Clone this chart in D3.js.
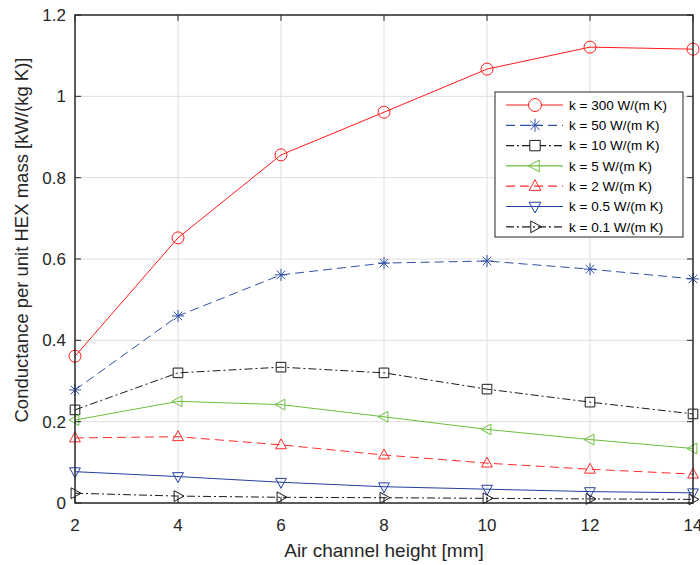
<!DOCTYPE html>
<html>
<head>
<meta charset="utf-8">
<script src="https://cdn.jsdelivr.net/npm/d3@7"></script>
<style>
  body { margin: 0; background: #fff; }
  text { font-family: "Liberation Sans", Arial, sans-serif; }
</style>
</head>
<body>
<svg id="chart" width="700" height="565"></svg>
<script>
// channel heights [mm]
const heights = [2, 4, 6, 8, 10, 12, 14];
const xTicks = [2, 4, 6, 8, 10, 12, 14];
const yTicks = [0, 0.2, 0.4, 0.6, 0.8, 1, 1.2];

// conductance per unit HEX mass, one list per wall conductivity
const k300 = [0.361, 0.652, 0.856, 0.961, 1.067, 1.121, 1.116];
const k50 = [0.278, 0.460, 0.561, 0.590, 0.595, 0.575, 0.551];
const k10 = [0.229, 0.320, 0.334, 0.320, 0.280, 0.248, 0.219];
const k5 = [0.204, 0.250, 0.242, 0.212, 0.181, 0.156, 0.134];
const k2 = [0.160, 0.163, 0.143, 0.118, 0.098, 0.083, 0.071];
const k05 = [0.077, 0.065, 0.051, 0.040, 0.034, 0.028, 0.025];
const k01 = [0.024, 0.017, 0.014, 0.013, 0.0115, 0.010, 0.009];

const series = [
  { label: "k = 300 W/(m K)", values: k300, color: "#ff1a1a", dash: null, marker: "circle" },
  { label: "k = 50 W/(m K)", values: k50, color: "#2f4fa6", dash: "9,5", marker: "star" },
  { label: "k = 10 W/(m K)", values: k10, color: "#1a1a1a", dash: "8,3,2,3", marker: "square" },
  { label: "k = 5 W/(m K)", values: k5, color: "#6cbf3c", dash: null, marker: "left" },
  { label: "k = 2 W/(m K)", values: k2, color: "#ff2a2a", dash: "9,5", marker: "up" },
  { label: "k = 0.5 W/(m K)", values: k05, color: "#22409e", dash: null, marker: "down" },
  { label: "k = 0.1 W/(m K)", values: k01, color: "#1a1a1a", dash: "8,3,2,3", marker: "right" }
];

const margin = { left: 75, right: 7, top: 15, bottom: 62 };
const svg = d3.select("#chart"),
    W = +svg.attr("width"), H = +svg.attr("height"),
    iw = W - margin.left - margin.right,
    ih = H - margin.top - margin.bottom;

const x = d3.scaleLinear().domain([2, 14]).range([0, iw]);
const y = d3.scaleLinear().domain([0, 1.2]).range([ih, 0]);

const g = svg.append("g").attr("transform", "translate(" + margin.left + "," + margin.top + ")");

// grid
g.append("g").selectAll("line").data(xTicks.slice(1, -1)).join("line")
    .attr("x1", d => x(d)).attr("x2", d => x(d)).attr("y1", 0).attr("y2", ih)
    .attr("stroke", "#dedede").attr("stroke-width", 1);
g.append("g").selectAll("line").data(yTicks.slice(1, -1)).join("line")
    .attr("y1", d => y(d)).attr("y2", d => y(d)).attr("x1", 0).attr("x2", iw)
    .attr("stroke", "#dedede").attr("stroke-width", 1);

// marker paths
function markerPath(type, s) {
  switch (type) {
    case "circle": return d3.symbol(d3.symbolCircle, Math.PI * s * s)();
    case "square": { const h = s * 0.8; return `M${-h},${-h}H${h}V${h}H${-h}Z`; }
    case "star": {
      const r = s, d = s * 0.72;
      return `M${-r},0H${r}M0,${-r}V${r}M${-d},${-d}L${d},${d}M${-d},${d}L${d},${-d}`;
    }
    case "up": return `M0,${-s}L${s * 0.9},${s * 0.65}L${-s * 0.9},${s * 0.65}Z`;
    case "down": return `M0,${s}L${s * 0.9},${-s * 0.65}L${-s * 0.9},${-s * 0.65}Z`;
    case "left": return `M${-s},0L${s * 0.65},${-s * 0.9}L${s * 0.65},${s * 0.9}Z`;
    case "right": return `M${s},0L${-s * 0.65},${-s * 0.9}L${-s * 0.65},${s * 0.9}Z`;
  }
}

const line = d3.line().x((d, i) => x(heights[i])).y(d => y(d));

series.forEach(s => {
  g.append("path")
      .attr("d", line(s.values))
      .attr("fill", "none")
      .attr("stroke", s.color)
      .attr("stroke-width", 1)
      .attr("stroke-dasharray", s.dash);
  g.append("g").selectAll("path").data(s.values).join("path")
      .attr("transform", (d, i) => "translate(" + x(heights[i]) + "," + y(d) + ")")
      .attr("d", markerPath(s.marker, 6))
      .attr("fill", "none")
      .attr("stroke", s.color)
      .attr("stroke-width", 1);
});

// axes box with inward ticks
const axisColor = "#262626";
const tickLen = 6;
g.append("rect").attr("x", 0).attr("y", 0).attr("width", iw).attr("height", ih)
    .attr("fill", "none").attr("stroke", axisColor).attr("stroke-width", 1.5);

const ticks = g.append("g").attr("stroke", axisColor).attr("stroke-width", 1);
xTicks.forEach(t => {
  ticks.append("line").attr("x1", x(t)).attr("x2", x(t)).attr("y1", ih).attr("y2", ih - tickLen);
  ticks.append("line").attr("x1", x(t)).attr("x2", x(t)).attr("y1", 0).attr("y2", tickLen);
});
yTicks.forEach(t => {
  ticks.append("line").attr("y1", y(t)).attr("y2", y(t)).attr("x1", 0).attr("x2", tickLen);
  ticks.append("line").attr("y1", y(t)).attr("y2", y(t)).attr("x1", iw).attr("x2", iw - tickLen);
});

g.append("g").selectAll("text").data(xTicks).join("text")
    .attr("x", d => x(d)).attr("y", ih + 28)
    .attr("text-anchor", "middle")
    .attr("fill", axisColor)
    .style("font-size", "17px")
    .text(d => d);
g.append("g").selectAll("text").data(yTicks).join("text")
    .attr("x", -9).attr("y", d => y(d))
    .attr("dy", "0.35em")
    .attr("text-anchor", "end")
    .attr("fill", axisColor)
    .style("font-size", "17px")
    .text(d => d);

// axis titles
g.append("text")
    .attr("x", iw / 2).attr("y", ih + 54)
    .attr("text-anchor", "middle")
    .attr("fill", axisColor)
    .style("font-size", "19px")
    .text("Air channel height [mm]");
g.append("text")
    .attr("transform", "translate(" + (-47) + "," + (ih / 2 - 19) + ") rotate(-90)")
    .attr("text-anchor", "middle")
    .attr("fill", axisColor)
    .style("font-size", "18.5px")
    .text("Conductance per unit HEX mass [kW/(kg K)]");

// legend
const lg = svg.append("g").attr("transform", "translate(495,92)");
const rowH = 20.3;
lg.append("rect").attr("x", 0).attr("y", 0).attr("width", 188).attr("height", 145)
    .attr("fill", "#fff").attr("stroke", axisColor).attr("stroke-width", 1);
series.forEach((s, i) => {
  const yy = 13 + i * rowH;
  lg.append("line").attr("x1", 11).attr("x2", 68).attr("y1", yy).attr("y2", yy)
      .attr("stroke", s.color).attr("stroke-width", 1.2).attr("stroke-dasharray", s.dash);
  lg.append("path").attr("transform", "translate(40," + yy + ")")
      .attr("d", markerPath(s.marker, 6.5))
      .attr("fill", s.marker === "square" || s.marker === "circle" ? "#fff" : "none")
      .attr("stroke", s.color).attr("stroke-width", 1);
  lg.append("text").attr("x", 74).attr("y", yy).attr("dy", "0.35em")
      .attr("fill", "#000").style("font-size", "13.5px").text(s.label);
});
</script>
</body>
</html>
